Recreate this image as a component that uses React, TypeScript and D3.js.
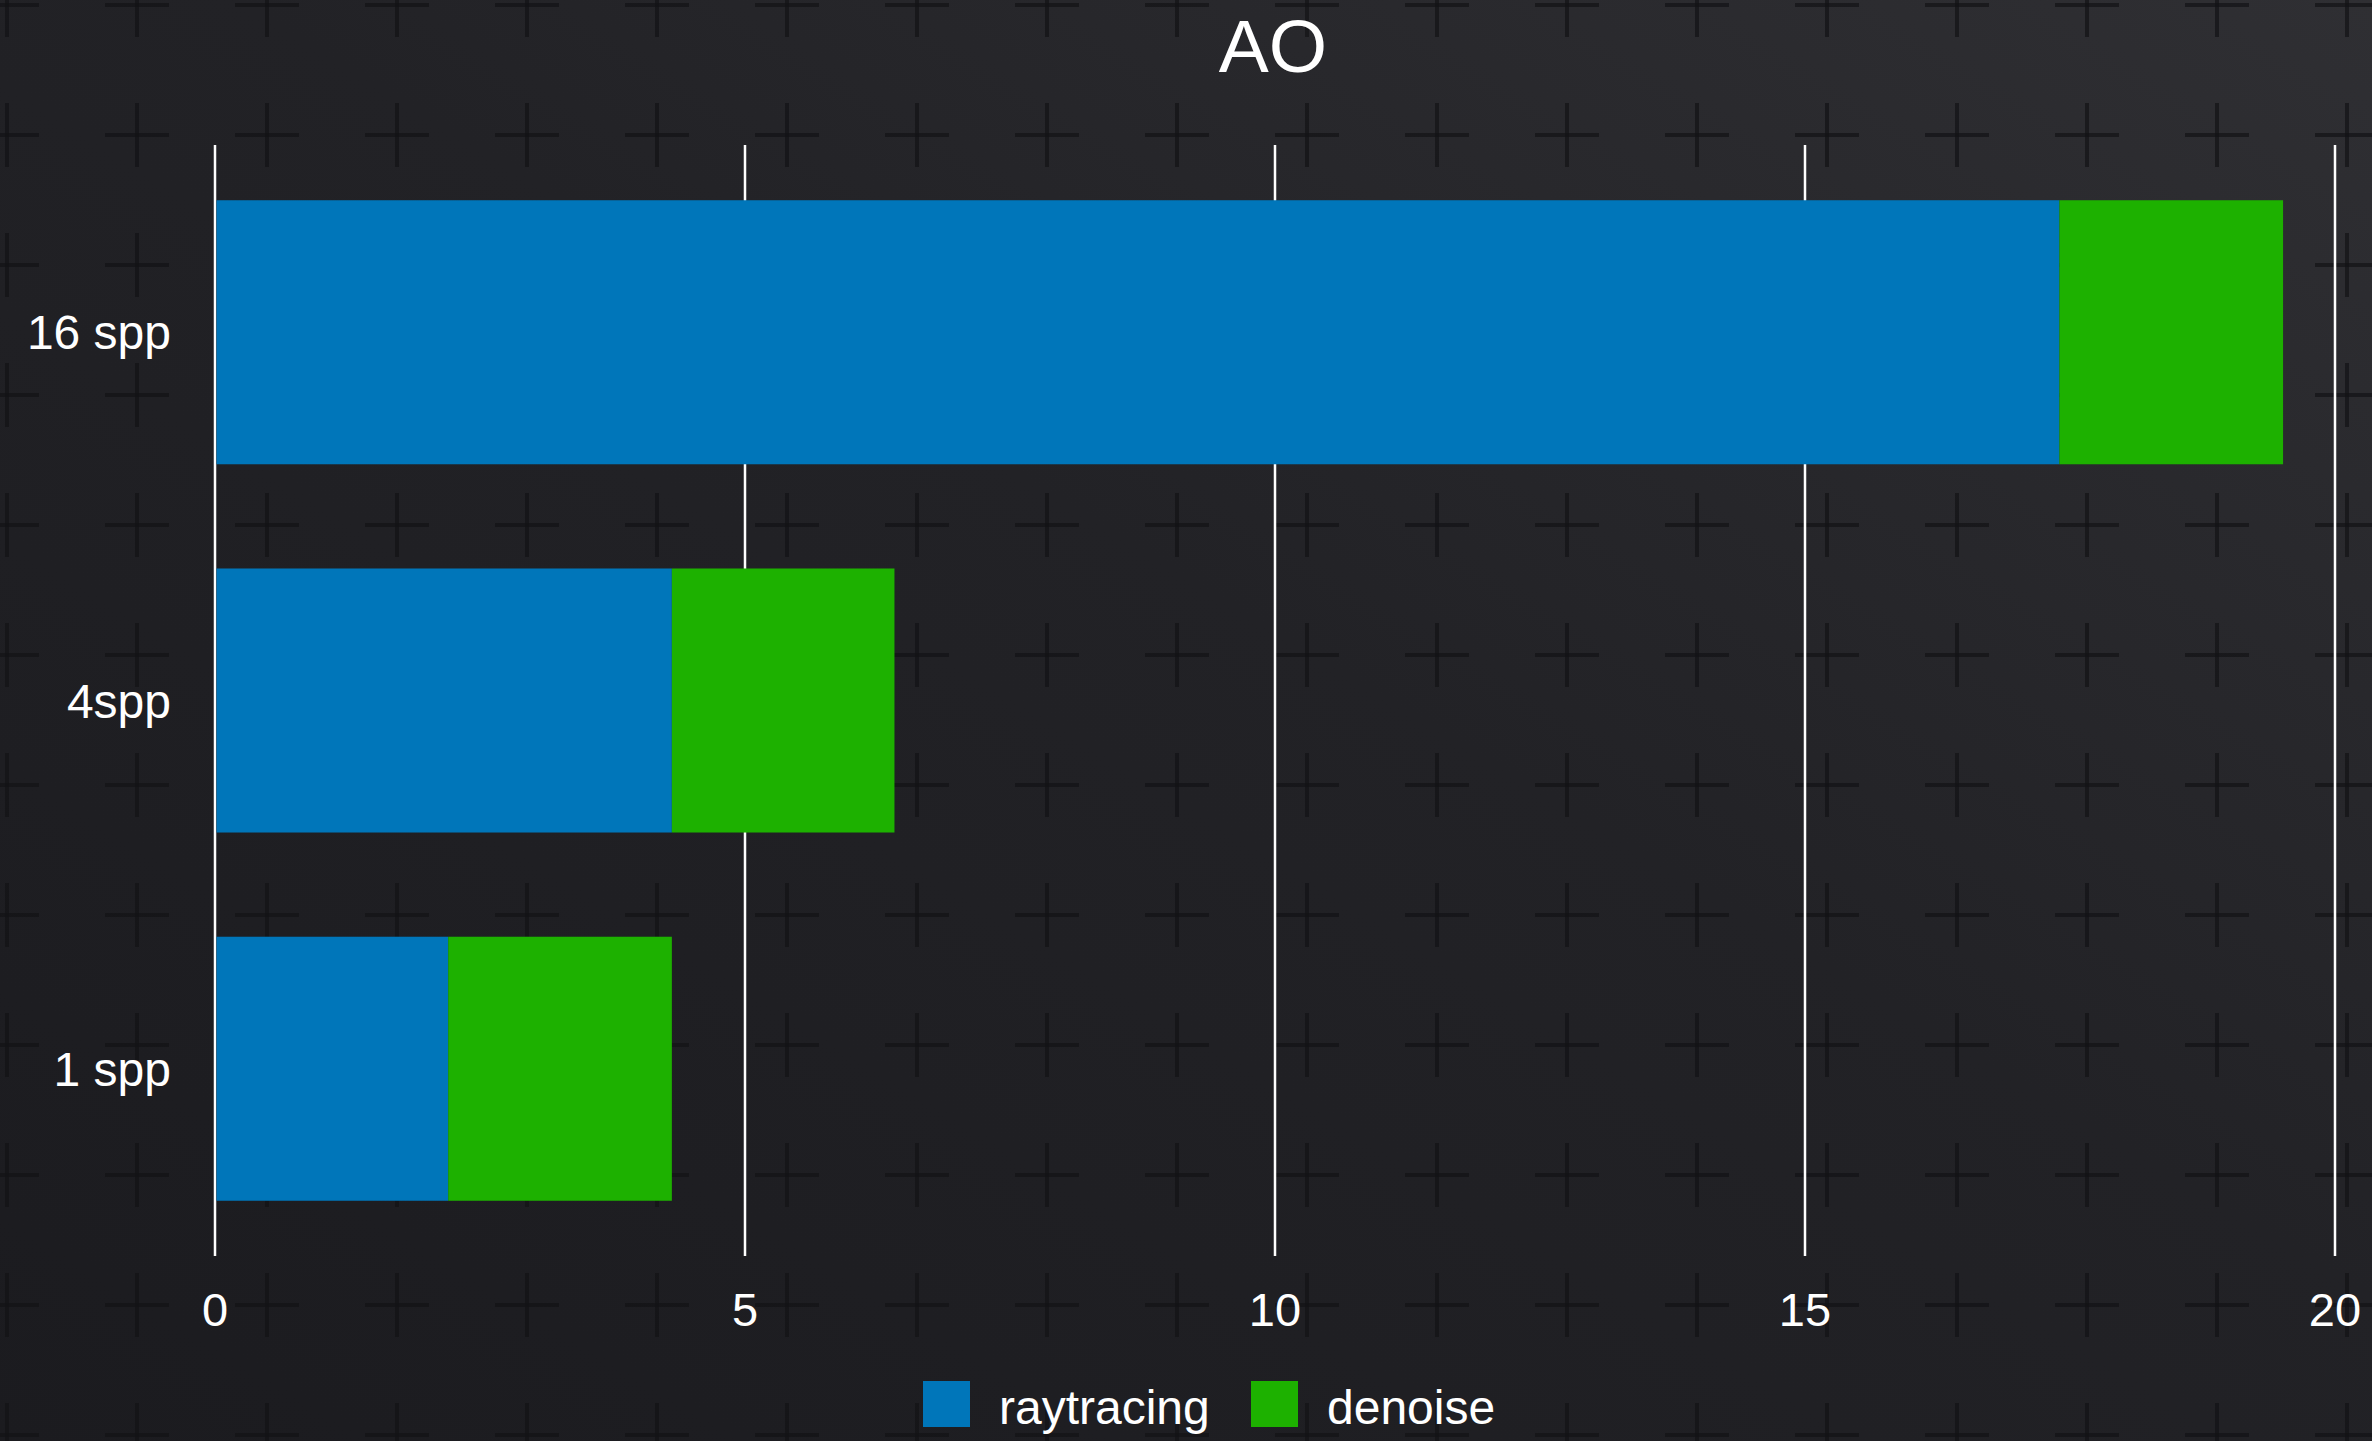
import React from "react";
import * as d3 from "d3";

const categories = ["16 spp", "4spp", "1 spp"];
const raytracing = [17.4, 4.31, 2.2];
const denoise = [2.11, 2.1, 2.11];
const seriesNames = ["raytracing", "denoise"];
const seriesColors = ["#0076BA", "#1DB100"];
const xTicks = [0, 5, 10, 15, 20];
const title = "AO";

const W = 2372;
const H = 1441;
const FONT = "'Liberation Sans', Arial, Helvetica, sans-serif";

export default function App() {
  const x = d3.scaleLinear().domain([0, 20]).range([215, 2335]);
  const y = d3
    .scaleBand<string>()
    .domain(categories)
    .range([145, 1256])
    .paddingInner(0.283)
    .paddingOuter(0.15);

  const rows = categories.map((c, i) => ({ cat: c, raytracing: raytracing[i], denoise: denoise[i] }));
  const stack = d3.stack<any>().keys(seriesNames)(rows);

  // background cross pattern
  const crosses: { cx: number; cy: number }[] = [];
  for (let cx = 7; cx < W + 70; cx += 130) {
    for (let cy = 5; cy < H + 70; cy += 130) {
      crosses.push({ cx, cy });
    }
  }

  const legendItems = [
    { name: seriesNames[0], color: seriesColors[0], sx: 923, tx: 999 },
    { name: seriesNames[1], color: seriesColors[1], sx: 1251, tx: 1327 },
  ];

  return (
    <svg
      width={W}
      height={H}
      style={{ position: "absolute", left: 0, top: 0, display: "block" }}
      fontFamily={FONT}
    >
      <defs>
        <linearGradient id="bg" x1="0" y1="1" x2="1" y2="0">
          <stop offset="0" stopColor="#1b1b1f" />
          <stop offset="0.55" stopColor="#222226" />
          <stop offset="1" stopColor="#2f2f33" />
        </linearGradient>
      </defs>
      <rect x={0} y={0} width={W} height={H} fill="url(#bg)" />
      <g stroke="#131316" strokeOpacity={0.7} strokeWidth={4}>
        {crosses.map((p, i) => (
          <g key={i}>
            <line x1={p.cx - 32} x2={p.cx + 32} y1={p.cy} y2={p.cy} />
            <line x1={p.cx} x2={p.cx} y1={p.cy - 32} y2={p.cy + 32} />
          </g>
        ))}
      </g>

      <text x={1273} y={72} fill="#ffffff" fontSize={75} textAnchor="middle">
        {title}
      </text>

      {xTicks.map((t) => (
        <g key={t}>
          <line x1={x(t)} x2={x(t)} y1={145} y2={1256} stroke="#ffffff" strokeWidth={2.5} />
          <text x={x(t)} y={1326} fill="#ffffff" fontSize={47} textAnchor="middle">
            {t}
          </text>
        </g>
      ))}

      {stack.map((s, si) => (
        <g key={s.key} fill={seriesColors[si]}>
          {s.map((d: any, i: number) => (
            <rect
              key={i}
              x={x(d[0]) + (d[0] === 0 ? 1.5 : 0)}
              y={y(d.data.cat)}
              width={x(d[1]) - x(d[0]) - (d[0] === 0 ? 1.5 : 0)}
              height={y.bandwidth()}
            />
          ))}
        </g>
      ))}

      {categories.map((c) => (
        <text
          key={c}
          x={171}
          y={(y(c) as number) + y.bandwidth() / 2 + 17}
          fill="#ffffff"
          fontSize={48}
          textAnchor="end"
        >
          {c}
        </text>
      ))}

      {legendItems.map((l) => (
        <g key={l.name}>
          <rect x={l.sx} y={1381} width={47} height={46} fill={l.color} />
          <text x={l.tx} y={1424} fill="#ffffff" fontSize={48}>
            {l.name}
          </text>
        </g>
      ))}
    </svg>
  );
}
